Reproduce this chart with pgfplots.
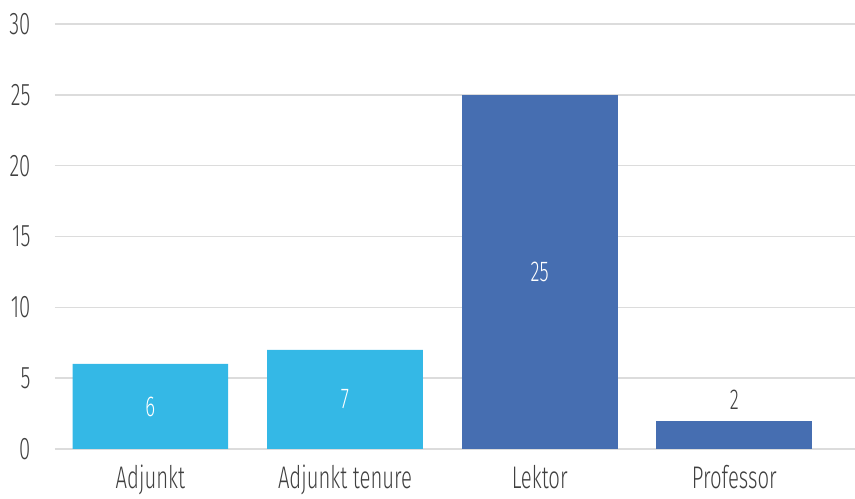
\documentclass[border=0pt]{standalone}
\usepackage{fontspec}
\setmainfont{Fira Sans}[UprightFont=* Light, FakeStretch=0.65]
\usepackage{pgfplots}
\pgfplotsset{compat=1.18}
\definecolor{LightBar}{HTML}{34B8E6}
\definecolor{DarkBar}{HTML}{466EB1}
\definecolor{GridGray}{HTML}{DCDCDC}
\definecolor{TextGray}{HTML}{404040}

\begin{document}
\begin{tikzpicture}[x=0.4pt,y=0.4pt]
\begin{axis}[
  at={(0,0)},
  anchor=south west,
  width=800*0.4pt,
  height=425*0.4pt,
  scale only axis,
  ybar,
  bar width=0.8,
  bar shift=0pt,
  xmin=-0.49, xmax=3.62,
  ymin=0, ymax=30,
  ytick={0,5,...,30},
  xtick={0,1,2,3},
  xticklabels={Adjunkt,Adjunkt tenure,Lektor,Professor},
  axis line style={draw=none},
  major tick length=0pt,
  ymajorgrids=true,
  grid style={draw=GridGray,line width=0.6pt},
  tick label style={font=\fontsize{12.5}{14}\selectfont,text=TextGray},
  yticklabel style={anchor=east,xshift=-6.3pt},
  xticklabel style={yshift=-3pt},
  /pgf/number format/assume math mode=true,
  nodes near coords,
  nodes near coords style={font=\fontsize{11.5}{13}\selectfont},
  visualization depends on=y \as \rawy,
  clip=false,
]
\addplot[fill=LightBar,draw=none,
  nodes near coords style={text=white,anchor=center,shift={(axis direction cs:0,-\rawy/2)}}]
  coordinates {(0,6) (1,7)};
\addplot[fill=DarkBar,draw=none,
  nodes near coords style={text=white,anchor=center,shift={(axis direction cs:0,-\rawy/2)}}]
  coordinates {(2,25)};
\addplot[fill=DarkBar,draw=none,
  nodes near coords style={text=TextGray,anchor=south,yshift=1pt}]
  coordinates {(3,2)};
\end{axis}
\pgfresetboundingbox
\path (-55,-50) rectangle (800,449);
\end{tikzpicture}
\end{document}
